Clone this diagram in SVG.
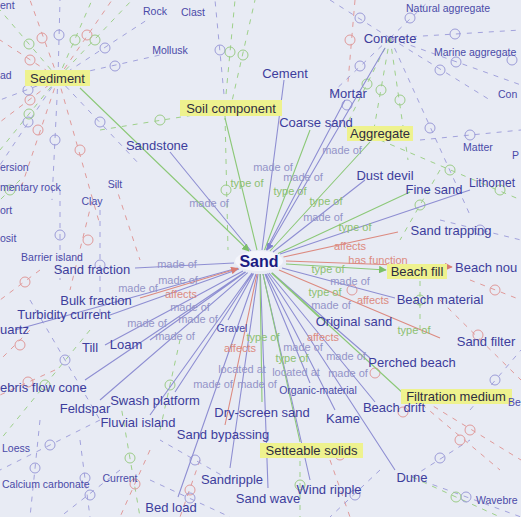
<svg xmlns="http://www.w3.org/2000/svg" width="521" height="517" viewBox="0 0 521 517">
<style>
text{font-family:"Liberation Sans",Arial,sans-serif}
.n{font-size:13px;fill:#3d3d9c}
.s{font-size:10.5px;fill:#4a4aa8}
.h{fill:#eef28e}
.c{font-size:13px;fill:#2e2e40}
.lb{font-size:11px;fill:#9494c8}
.lg{font-size:11px;fill:#8cc070}
.lr{font-size:11px;fill:#dc8a80}
.eb{stroke:#8e8ed2;stroke-width:1.1;fill:none}
.eg{stroke:#8cc878;stroke-width:1.1;fill:none}
.er{stroke:#dc8a80;stroke-width:1.1;fill:none}
.db{stroke:#a2a2dc;stroke-width:1;stroke-dasharray:5 6;fill:none}
.dg{stroke:#9ed08a;stroke-width:1;stroke-dasharray:5 6;fill:none}
.dr{stroke:#e09a9a;stroke-width:1;stroke-dasharray:5 6;fill:none}
.cb{stroke:#9c9cd8;fill:none;stroke-width:1}
.cg{stroke:#9ccc88;fill:none;stroke-width:1}
.cr{stroke:#e09a9a;fill:none;stroke-width:1}
</style>
<defs>
<marker id="ab" viewBox="0 0 10 10" refX="9" refY="5" markerWidth="7" markerHeight="7" orient="auto"><path d="M0,0L10,5L0,10z" fill="#8080d0"/></marker>
<marker id="ag" viewBox="0 0 10 10" refX="9" refY="5" markerWidth="7" markerHeight="7" orient="auto"><path d="M0,0L10,5L0,10z" fill="#7cc068"/></marker>
<marker id="ar" viewBox="0 0 10 10" refX="9" refY="5" markerWidth="7" markerHeight="7" orient="auto"><path d="M0,0L10,5L0,10z" fill="#d87c74"/></marker>
</defs>
<rect width="521" height="517" fill="#e8ebf4"/>
<g id="background-connectors">
<path class="dr" d="M58,78L0,40M58,78L30,0M58,78L112,0M58,78L0,122M58,78L22,185M58,78L100,225M355,0L348,82M92,201L70,290M115,184L140,260M470,280L521,300M415,395L521,460M405,390L500,470M40,270L0,300M30,330L0,360M150,450L120,517M440,300L521,380M330,460L350,517M200,460L180,517M55,370L0,395"/>
<path class="db" d="M58,78L60,0M58,78L150,18M58,78L160,55M58,78L140,165M58,78L0,100M58,78L52,200M58,78L0,165M390,38L330,0M390,38L430,0M390,38L521,30M390,38L521,85M390,38L490,100M390,38L330,95M390,38L470,215M225,105L215,0M100,210L100,320M60,190L60,280M30,300L100,420M100,420L0,470M120,470L60,517M230,480L160,440M412,477L521,517M412,477L470,440M470,410L521,350M440,220L521,240M420,140L521,130M40,420L30,517M80,440L90,517M380,470L330,517M150,480L230,517"/>
<path class="dg" d="M58,78L0,10M58,78L92,0M58,78L0,150M58,78L132,0M225,105L235,0M230,110L255,0M225,115L228,250M390,38L372,140M390,38L408,160M390,38L345,128M100,130L225,110M380,140L521,200M440,170L400,240M120,400L140,517M90,330L0,440M300,450L300,517M412,477L500,517M20,180L0,200M160,430L180,340M420,270L420,330"/>
<g class="cr"><circle cx="30" cy="60" r="5"/><circle cx="42" cy="38" r="5"/><circle cx="87" cy="35" r="5"/><circle cx="30" cy="100" r="5"/><circle cx="38" cy="130" r="5"/><circle cx="80" cy="150" r="5"/><circle cx="350" cy="40" r="5"/><circle cx="88" cy="240" r="5"/><circle cx="495" cy="290" r="5"/><circle cx="470" cy="430" r="5"/><circle cx="460" cy="440" r="5"/><circle cx="25" cy="282" r="5"/><circle cx="20" cy="345" r="5"/><circle cx="135" cy="484" r="5"/><circle cx="478" cy="335" r="5"/><circle cx="190" cy="490" r="5"/><circle cx="28" cy="382" r="5"/><circle cx="352" cy="290" r="5"/><circle cx="375" cy="373" r="5"/><circle cx="403" cy="412" r="5"/><circle cx="340" cy="455" r="5"/></g>
<g class="cb"><circle cx="59" cy="35" r="5"/><circle cx="105" cy="48" r="5"/><circle cx="115" cy="66" r="5"/><circle cx="100" cy="122" r="5"/><circle cx="28" cy="90" r="5"/><circle cx="55" cy="140" r="5"/><circle cx="28" cy="122" r="5"/><circle cx="360" cy="18" r="5"/><circle cx="410" cy="18" r="5"/><circle cx="455" cy="34" r="5"/><circle cx="456" cy="62" r="5"/><circle cx="440" cy="70" r="5"/><circle cx="360" cy="66" r="5"/><circle cx="430" cy="128" r="5"/><circle cx="220" cy="50" r="5"/><circle cx="100" cy="265" r="5"/><circle cx="60" cy="235" r="5"/><circle cx="65" cy="360" r="5"/><circle cx="50" cy="445" r="5"/><circle cx="90" cy="495" r="5"/><circle cx="195" cy="460" r="5"/><circle cx="466" cy="497" r="5"/><circle cx="440" cy="458" r="5"/><circle cx="495" cy="380" r="5"/><circle cx="480" cy="230" r="5"/><circle cx="470" cy="135" r="5"/><circle cx="35" cy="468" r="5"/><circle cx="85" cy="478" r="5"/><circle cx="355" cy="495" r="5"/><circle cx="190" cy="498" r="5"/><circle cx="347" cy="105" r="5"/><circle cx="512" cy="60" r="5"/></g>
<g class="cg"><circle cx="29" cy="44" r="5"/><circle cx="75" cy="40" r="5"/><circle cx="29" cy="114" r="5"/><circle cx="95" cy="40" r="5"/><circle cx="230" cy="52" r="5"/><circle cx="243" cy="55" r="5"/><circle cx="226" cy="190" r="5"/><circle cx="381" cy="90" r="5"/><circle cx="400" cy="100" r="5"/><circle cx="367" cy="84" r="5"/><circle cx="160" cy="120" r="5"/><circle cx="450" cy="170" r="5"/><circle cx="420" cy="205" r="5"/><circle cx="130" cy="458" r="5"/><circle cx="45" cy="385" r="5"/><circle cx="300" cy="485" r="5"/><circle cx="456" cy="497" r="5"/><circle cx="170" cy="385" r="5"/><circle cx="420" cy="300" r="5"/><circle cx="500" cy="190" r="5"/><circle cx="10" cy="190" r="5"/></g>
</g>
<g id="connectors">
<path class="eb" marker-end="url(#ab)" d="M284,80L262,250M345,100L266,250M170,152L251,251M365,180L273,252M470,190L280,254M395,298L282,268M370,358L272,273M375,402L269,273M335,410L266,274M310,383L265,274M310,480L263,274M395,470L267.5,273.5M268,488L260.4,274M230,468L258,274M178,497L256,274M228,320L253.6,273.6M150,415L252,273M175,392L252.5,273.5M100,400L247.7,272.6M85,380L245,272M150,340L245.7,272M105,345L243,271M15,330L237.7,268M135,268L234,263M110,315L239,269M385,48L267,250"/>
<path class="eg" marker-end="url(#ag)" d="M310,130L264.5,250M225,118L257,250M370,142L270,251M410,192L278,253.5M320,318L271.5,273M405,395L272,273M300,442L263,274M262,402L260,274M80,88L249,251"/>
<path class="eg" marker-end="url(#ag)" d="M286,264L386,270"/>
<path class="er" marker-end="url(#ar)" d="M398,232L283.5,257M440,338L279,270M225,425L257,274M140,298L238,268.5"/>
<path class="er" marker-end="url(#ar)" d="M286,261L452,267"/>
<g id="edge-labels">
<text class="lb" x="273" y="171" text-anchor="middle">made of</text>
<text class="lb" x="303" y="181" text-anchor="middle">made of</text>
<text class="lb" x="342" y="154" text-anchor="middle">made of</text>
<text class="lb" x="209" y="207" text-anchor="middle">made of</text>
<text class="lb" x="323" y="221" text-anchor="middle">made of</text>
<text class="lg" x="247" y="187" text-anchor="middle">type of</text>
<text class="lg" x="290" y="195" text-anchor="middle">type of</text>
<text class="lg" x="326" y="205" text-anchor="middle">type of</text>
<text class="lg" x="355" y="231" text-anchor="middle">type of</text>
<text class="lr" x="350" y="250" text-anchor="middle">affects</text>
<text class="lr" x="378" y="264" text-anchor="middle">has function</text>
<text class="lg" x="328" y="273" text-anchor="middle">type of</text>
<text class="lb" x="350" y="285" text-anchor="middle">made of</text>
<text class="lg" x="325" y="296" text-anchor="middle">type of</text>
<text class="lr" x="373" y="304" text-anchor="middle">affects</text>
<text class="lb" x="331" y="309" text-anchor="middle">made of</text>
<text class="lg" x="414" y="334" text-anchor="middle">type of</text>
<text class="lr" x="323" y="341" text-anchor="middle">affects</text>
<text class="lb" x="303" y="351" text-anchor="middle">made of</text>
<text class="lg" x="263" y="341" text-anchor="middle">type of</text>
<text class="lg" x="292" y="362" text-anchor="middle">type of</text>
<text class="lb" x="346" y="360" text-anchor="middle">made of</text>
<text class="lb" x="348" y="377" text-anchor="middle">made of</text>
<text class="lb" x="177" y="268" text-anchor="middle">made of</text>
<text class="lb" x="178" y="284" text-anchor="middle">made of</text>
<text class="lb" x="138" y="292" text-anchor="middle">made of</text>
<text class="lr" x="181" y="298" text-anchor="middle">affects</text>
<text class="lb" x="190" y="311" text-anchor="middle">made of</text>
<text class="lb" x="147" y="327" text-anchor="middle">made of</text>
<text class="lb" x="175" y="340" text-anchor="middle">made of</text>
<text class="lb" x="198" y="323" text-anchor="middle">made of</text>
<text class="lr" x="240" y="352" text-anchor="middle">affects</text>
<text class="lb" x="213" y="388" text-anchor="middle">made of</text>
<text class="lb" x="242" y="373" text-anchor="middle">located at</text>
<text class="lb" x="296" y="376" text-anchor="middle">located at</text>
<text class="lb" x="257" y="388" text-anchor="middle">made of</text>
</g>
</g>
<g id="n-sand"><ellipse cx="259" cy="261" rx="24" ry="10" fill="#f4f5fb"/><text x="259" y="267" text-anchor="middle" style="font-size:16px;font-weight:bold;fill:#1c1c82">Sand</text></g>
<g id="n-sediment"><rect class="h" x="25" y="70" width="65" height="16"/><text class="c" x="57.5" y="83" text-anchor="middle">Sediment</text></g>
<g id="n-soil-component"><rect class="h" x="180" y="100" width="102" height="16"/><text class="c" x="231" y="113" text-anchor="middle">Soil component</text></g>
<g id="n-aggregate"><rect class="h" x="347" y="126" width="66" height="15"/><text class="c" x="380" y="138" text-anchor="middle">Aggregate</text></g>
<g id="n-beach-fill"><rect class="h" x="387" y="264" width="60" height="15"/><text class="c" x="417" y="276" text-anchor="middle">Beach fill</text></g>
<g id="n-filtration-medium"><rect class="h" x="401" y="389" width="111" height="15"/><text class="c" x="456" y="401" text-anchor="middle">Filtration medium</text></g>
<g id="n-setteable-solids"><rect class="h" x="260" y="443" width="103" height="15"/><text class="c" x="311.5" y="455" text-anchor="middle">Setteable solids</text></g>
<g id="n-cement"><text class="n" x="285" y="78" text-anchor="middle">Cement</text></g>
<g id="n-mortar"><text class="n" x="348" y="98" text-anchor="middle">Mortar</text></g>
<g id="n-coarse-sand"><text class="n" x="316" y="127" text-anchor="middle">Coarse sand</text></g>
<g id="n-sandstone"><text class="n" x="157" y="150" text-anchor="middle">Sandstone</text></g>
<g id="n-dust-devil"><text class="n" x="385" y="180" text-anchor="middle">Dust devil</text></g>
<g id="n-fine-sand"><text class="n" x="434" y="194" text-anchor="middle">Fine sand</text></g>
<g id="n-lithomet"><text class="n" x="469" y="187" style="font-size:12px">Lithomet</text></g>
<g id="n-sand-trapping"><text class="n" x="451" y="235" text-anchor="middle">Sand trapping</text></g>
<g id="n-beach-nou"><text class="n" x="455" y="272">Beach nou</text></g>
<g id="n-sand-fraction"><text class="n" x="92" y="274" text-anchor="middle">Sand fraction</text></g>
<g id="n-bulk-fraction"><text class="n" x="96" y="305" text-anchor="middle">Bulk fraction</text></g>
<g id="n-turbidity-current"><text class="n" x="64" y="319" text-anchor="middle">Turbidity current</text></g>
<g id="n-uartz"><text class="n" x="0" y="334">uartz</text></g>
<g id="n-beach-material"><text class="n" x="440" y="304" text-anchor="middle">Beach material</text></g>
<g id="n-original-sand"><text class="n" x="354" y="326" text-anchor="middle">Original sand</text></g>
<g id="n-sand-filter"><text class="n" x="486" y="346" text-anchor="middle">Sand filter</text></g>
<g id="n-till"><text class="n" x="90" y="352" text-anchor="middle">Till</text></g>
<g id="n-loam"><text class="n" x="126" y="349" text-anchor="middle">Loam</text></g>
<g id="n-perched-beach"><text class="n" x="412" y="367" text-anchor="middle">Perched beach</text></g>
<g id="n-gravel"><text class="s" x="232" y="332" text-anchor="middle">Gravel</text></g>
<g id="n-swash-platform"><text class="n" x="155" y="405" text-anchor="middle">Swash platform</text></g>
<g id="n-feldspar"><text class="n" x="85" y="413" text-anchor="middle">Feldspar</text></g>
<g id="n-fluvial-island"><text class="n" x="138" y="427" text-anchor="middle">Fluvial island</text></g>
<g id="n-dry-screen-sand"><text class="n" x="262" y="417" text-anchor="middle">Dry-screen sand</text></g>
<g id="n-organic-material"><text class="s" x="318" y="394" text-anchor="middle">Organic-material</text></g>
<g id="n-kame"><text class="n" x="343" y="423" text-anchor="middle">Kame</text></g>
<g id="n-beach-drift"><text class="n" x="394" y="412" text-anchor="middle">Beach drift</text></g>
<g id="n-sand-bypassing"><text class="n" x="223" y="439" text-anchor="middle">Sand bypassing</text></g>
<g id="n-sandripple"><text class="n" x="232" y="484" text-anchor="middle">Sandripple</text></g>
<g id="n-wind-ripple"><text class="n" x="329" y="494" text-anchor="middle">Wind ripple</text></g>
<g id="n-dune"><text class="n" x="412" y="482" text-anchor="middle">Dune</text></g>
<g id="n-sand-wave"><text class="n" x="268" y="503" text-anchor="middle">Sand wave</text></g>
<g id="n-bed-load"><text class="n" x="171" y="512" text-anchor="middle">Bed load</text></g>
<g id="n-current"><text class="s" x="120" y="482" text-anchor="middle">Current</text></g>
<g id="n-calcium-carbonate"><text class="s" x="2" y="488">Calcium carbonate</text></g>
<g id="n-loess"><text class="s" x="2" y="452">Loess</text></g>
<g id="n-ebris-flow-cone"><text class="n" x="0" y="392">ebris flow cone</text></g>
<g id="n-concrete"><text class="n" x="390" y="43" text-anchor="middle">Concrete</text></g>
<g id="n-natural-aggregate"><text class="s" x="448" y="12" text-anchor="middle">Natural aggregate</text></g>
<g id="n-marine-aggregate"><text class="s" x="434" y="56">Marine aggregate</text></g>
<g id="n-con"><text class="s" x="498" y="98">Con</text></g>
<g id="n-matter"><text class="s" x="478" y="151" text-anchor="middle">Matter</text></g>
<g id="n-p"><text class="s" x="512" y="159">P</text></g>
<g id="n-rock"><text class="s" x="155" y="15" text-anchor="middle">Rock</text></g>
<g id="n-clast"><text class="s" x="193" y="16" text-anchor="middle">Clast</text></g>
<g id="n-mollusk"><text class="s" x="170" y="54" text-anchor="middle">Mollusk</text></g>
<g id="n-ent"><text class="s" x="0" y="9">ent</text></g>
<g id="n-ad"><text class="s" x="0" y="79">ad</text></g>
<g id="n-ersion"><text class="s" x="0" y="171">ersion</text></g>
<g id="n-mentary-rock"><text class="s" x="0" y="191">mentary rock</text></g>
<g id="n-silt"><text class="s" x="115" y="188" text-anchor="middle">Silt</text></g>
<g id="n-clay"><text class="s" x="92" y="205" text-anchor="middle">Clay</text></g>
<g id="n-ort"><text class="s" x="0" y="214">ort</text></g>
<g id="n-osit"><text class="s" x="0" y="242">osit</text></g>
<g id="n-barrier-island"><text class="s" x="52" y="261" text-anchor="middle">Barrier island</text></g>
<g id="n-wavebre"><text class="s" x="476" y="504">Wavebre</text></g>
<g id="n-be"><text class="s" x="508" y="406">Be</text></g>
</svg>
